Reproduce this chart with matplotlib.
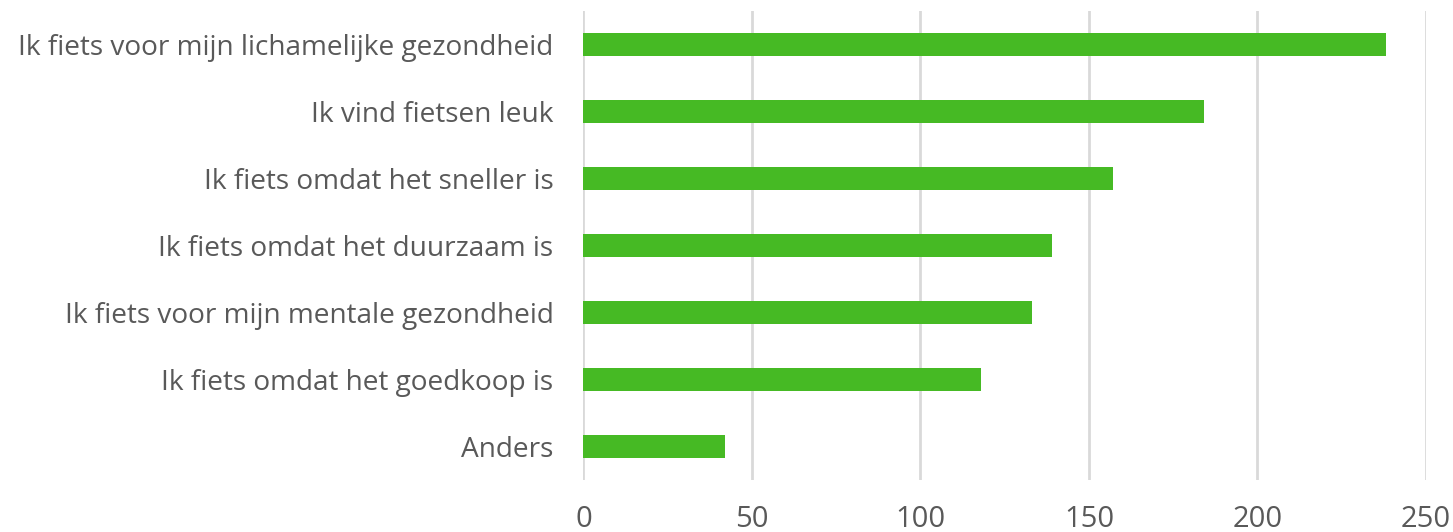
import matplotlib.pyplot as plt

# motivaties om te fietsen (van boven naar beneden)
categories = [
    'Ik fiets voor mijn lichamelijke gezondheid',
    'Ik vind fietsen leuk',
    'Ik fiets omdat het sneller is',
    'Ik fiets omdat het duurzaam is',
    'Ik fiets voor mijn mentale gezondheid',
    'Ik fiets omdat het goedkoop is',
    'Anders',
]
counts = [238, 184, 157, 139, 133, 118, 42]
xticks = [0, 50, 100, 150, 200, 250]

plt.rcParams['font.family'] = ['Open Sans', 'DejaVu Sans']

fig = plt.figure(figsize=(14.53, 5.32), dpi=100)
ax = fig.add_axes([0.4015, 0.0977, 0.5799, 0.8816])

ypos = range(len(categories))
ax.barh(ypos, counts, height=0.34, color='#46BA24', zorder=3)
ax.set_yticks(list(ypos))
ax.set_yticklabels(categories, fontsize=20.2, color='#595959')
ax.set_ylim(6.5, -0.5)

ax.set_xlim(0, 250)
ax.set_xticks(xticks)
ax.set_xticklabels([str(t) for t in xticks], fontsize=21, color='#595959')
ax.xaxis.grid(True, color='#D9D9D9', linewidth=2, zorder=0)

ax.tick_params(axis='both', length=0)
ax.tick_params(axis='y', pad=21.5)
ax.tick_params(axis='x', pad=18)
for s in ax.spines.values():
    s.set_visible(False)

fig.savefig('out.png', dpi=100)
